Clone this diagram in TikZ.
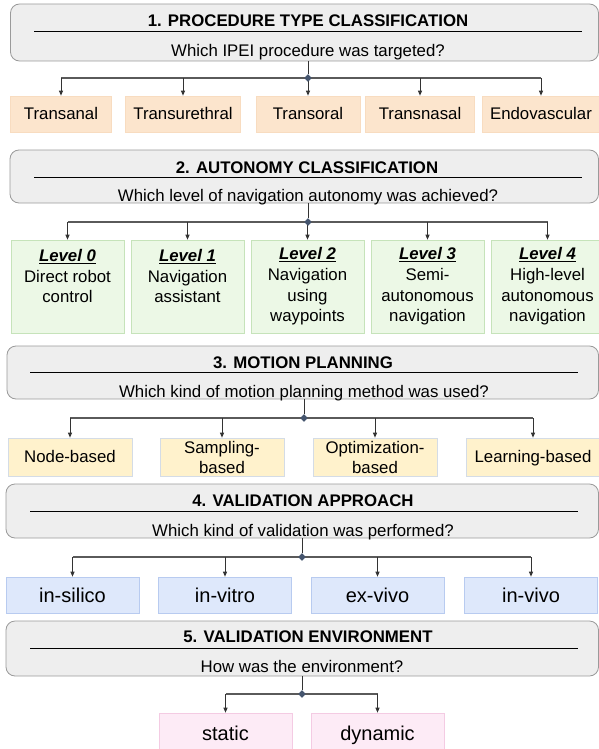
\documentclass[tikz,border=0pt]{standalone}
\usepackage{fontspec}
\setmainfont{Liberation Sans}
\usetikzlibrary{arrows.meta,shapes.geometric}

\definecolor{hdrfill}{HTML}{EEEEEE}
\definecolor{hdrline}{HTML}{9A9A9A}
\definecolor{procfill}{HTML}{FCE5CD}
\definecolor{procline}{HTML}{F8DCC0}
\definecolor{lvlfill}{HTML}{ECF8E6}
\definecolor{lvlline}{HTML}{C6E3BA}
\definecolor{planfill}{HTML}{FFF2CC}
\definecolor{planline}{HTML}{D4DCE6}
\definecolor{validfill}{HTML}{DEE8FB}
\definecolor{validline}{HTML}{B8CBF0}
\definecolor{envrfill}{HTML}{FDEBF6}
\definecolor{envrline}{HTML}{F4CBE3}
\definecolor{linkcol}{HTML}{333333}
\definecolor{barcol}{HTML}{5A5A5A}
\definecolor{diacol}{HTML}{45556E}

\tikzset{
  hdr/.style={draw=hdrline, fill=hdrfill, rounded corners=9pt, line width=0.8pt},
  ttl/.style={font=\fontsize{16.8}{20}\selectfont\bfseries, inner sep=0pt, anchor=base},
  qst/.style={font=\fontsize{16.8}{20}\selectfont, inner sep=0pt, anchor=base},
  rule/.style={line width=0.9pt},
  cat/.style={inner sep=0pt, align=center, line width=0.6pt,
    font=\fontsize{16.8}{20}\selectfont},
  oneline/.style={text height=12pt, text depth=0.5pt},
  proc/.style={cat, oneline, draw=procline, fill=procfill, minimum height=36pt},
  lvl/.style={cat, draw=lvlline, fill=lvlfill, minimum width=113pt, minimum height=93pt,
    font=\fontsize{16.8}{20.7}\selectfont},
  plan/.style={cat, draw=planline, fill=planfill, minimum width=124pt, minimum height=38pt},
  valid/.style={cat, oneline, draw=validline, fill=validfill, minimum width=133pt, minimum height=36pt,
    font=\fontsize{20}{24}\selectfont, text height=14.5pt, text depth=0.5pt},
  envr/.style={cat, oneline, draw=envrline, fill=envrfill, minimum width=133pt, minimum height=40pt,
    font=\fontsize{20}{24}\selectfont, text height=14.5pt, text depth=0.5pt},
  dia/.style={diamond, fill=diacol, inner sep=0pt, minimum size=7.5pt},
  link/.style={draw=linkcol, line width=0.9pt},
  bar/.style={draw=barcol, line width=1.4pt},
  arr/.style={link, -{Triangle[length=5pt,width=4pt]}},
}
\newcommand{\lvlname}[1]{\textbf{\textit{\underline{#1}}}}

\begin{document}
\begin{tikzpicture}[x=1pt, y=-1pt]
  \useasboundingbox (0,0) rectangle (599,749);

  % 1. procedure type
  \node[hdr, minimum width=588pt, minimum height=57pt] (h1) at (304.5,32.5) {};
  \node[ttl] (t1) at (308,27) {1. PROCEDURE TYPE CLASSIFICATION};
  \draw[rule] (34,31) -- (582,31);
  \node[qst] (q1) at (308,57) {Which IPEI procedure was targeted?};

  \node[proc, minimum width=101pt] (p1) at (61,114)    {Transanal};
  \node[proc, minimum width=115pt] (p2) at (183,114)   {Transurethral};
  \node[proc, minimum width=104pt] (p3) at (308,114)   {Transoral};
  \node[proc, minimum width=109pt] (p4) at (420,114)   {Transnasal};
  \node[proc, minimum width=118pt] (p5) at (541,114)   {Endovascular};
  \node[dia] (j1) at (308,78) {};

  \draw[link] (h1.south -| j1) -- (j1);
  \draw[bar] (p1.north |- j1) -- (p5.north |- j1);
  \draw[arr] (p1.north |- j1) -- (p1.north);
  \draw[arr] (p2.north |- j1) -- (p2.north);
  \draw[arr] (p3.north |- j1) -- (p3.north);
  \draw[arr] (p4.north |- j1) -- (p4.north);
  \draw[arr] (p5.north |- j1) -- (p5.north);
  \node[dia] at (j1) {};

  % 2. autonomy
  \node[hdr, minimum width=588.5pt, minimum height=53pt] (h2) at (304.25,176.5) {};
  \node[ttl] (t2) at (307,173) {2. AUTONOMY CLASSIFICATION};
  \draw[rule] (34,177) -- (582,177);
  \node[qst] (q2) at (308,201) {Which level of navigation autonomy was achieved?};

  \node[lvl] (l0) at (67.5,286.5)  {\lvlname{Level 0}\\Direct robot\\control\\\mbox{}};
  \node[lvl] (l1) at (187.5,286.5) {\lvlname{Level 1}\\Navigation\\assistant\\\mbox{}};
  \node[lvl] (l2) at (307.5,286.5) {\lvlname{Level 2}\\Navigation\\using\\waypoints};
  \node[lvl] (l3) at (427.5,286.5) {\lvlname{Level 3}\\Semi-\\autonomous\\navigation};
  \node[lvl] (l4) at (547.5,286.5) {\lvlname{Level 4}\\High-level\\autonomous\\navigation};
  \node[dia] (j2) at (308,222) {};

  \draw[link] (h2.south -| j2) -- (j2);
  \draw[bar] (l0.north |- j2) -- (l4.north |- j2);
  \draw[arr] (l0.north |- j2) -- (l0.north);
  \draw[arr] (l1.north |- j2) -- (l1.north);
  \draw[arr] (l2.north |- j2) -- (l2.north);
  \draw[arr] (l3.north |- j2) -- (l3.north);
  \draw[arr] (l4.north |- j2) -- (l4.north);
  \node[dia] at (j2) {};

  % 3. motion planning
  \node[hdr, minimum width=591.5pt, minimum height=53pt] (h3) at (302.75,372.5) {};
  \node[ttl] (t3) at (303,368) {3. MOTION PLANNING};
  \draw[rule] (30,372) -- (578,372);
  \node[qst] (q3) at (304,397) {Which kind of motion planning method was used?};

  \node[plan, oneline] (m1) at (70,457)  {Node-based};
  \node[plan] (m2) at (222,457) {Sampling-\\based};
  \node[plan] (m3) at (375,457) {Optimization-\\based};
  \node[plan, oneline, minimum width=133pt] (m4) at (533,457) {Learning-based};
  \node[dia] (j3) at (304,418) {};

  \draw[link] (h3.south -| j3) -- (j3);
  \draw[bar] (m1.north |- j3) -- (m4.north |- j3);
  \draw[arr] (m1.north |- j3) -- (m1.north);
  \draw[arr] (m2.north |- j3) -- (m2.north);
  \draw[arr] (m3.north |- j3) -- (m3.north);
  \draw[arr] (m4.north |- j3) -- (m4.north);
  \node[dia] at (j3) {};

  % 4. validation approach
  \node[hdr, minimum width=592.5pt, minimum height=54pt] (h4) at (302.25,511) {};
  \node[ttl] (t4) at (303,506) {4. VALIDATION APPROACH};
  \draw[rule] (30,511) -- (578,511);
  \node[qst] (q4) at (303,536) {Which kind of validation was performed?};

  \node[valid] (v1) at (72.5,595)  {in-silico};
  \node[valid] (v2) at (225,595)   {in-vitro};
  \node[valid] (v3) at (377.5,595) {ex-vivo};
  \node[valid] (v4) at (531,595)   {in-vivo};
  \node[dia] (j4) at (302,557) {};

  \draw[link] (h4.south -| j4) -- (j4);
  \draw[bar] (v1.north |- j4) -- (v4.north |- j4);
  \draw[arr] (v1.north |- j4) -- (v1.north);
  \draw[arr] (v2.north |- j4) -- (v2.north);
  \draw[arr] (v3.north |- j4) -- (v3.north);
  \draw[arr] (v4.north |- j4) -- (v4.north);
  \node[dia] at (j4) {};

  % 5. validation environment
  \node[hdr, minimum width=592.5pt, minimum height=55pt] (h5) at (302.25,648.5) {};
  \node[ttl] (t5) at (308,642) {5. VALIDATION ENVIRONMENT};
  \draw[rule] (30,648) -- (578,648);
  \node[qst] (q5) at (302,672) {How was the environment?};

  \node[envr] (e1) at (225.5,733) {static};
  \node[envr] (e2) at (377.5,733) {dynamic};
  \node[dia] (j5) at (302,694) {};

  \draw[link] (h5.south -| j5) -- (j5);
  \draw[bar] (e1.north |- j5) -- (e2.north |- j5);
  \draw[arr] (e1.north |- j5) -- (e1.north);
  \draw[arr] (e2.north |- j5) -- (e2.north);
  \node[dia] at (j5) {};
\end{tikzpicture}
\end{document}
